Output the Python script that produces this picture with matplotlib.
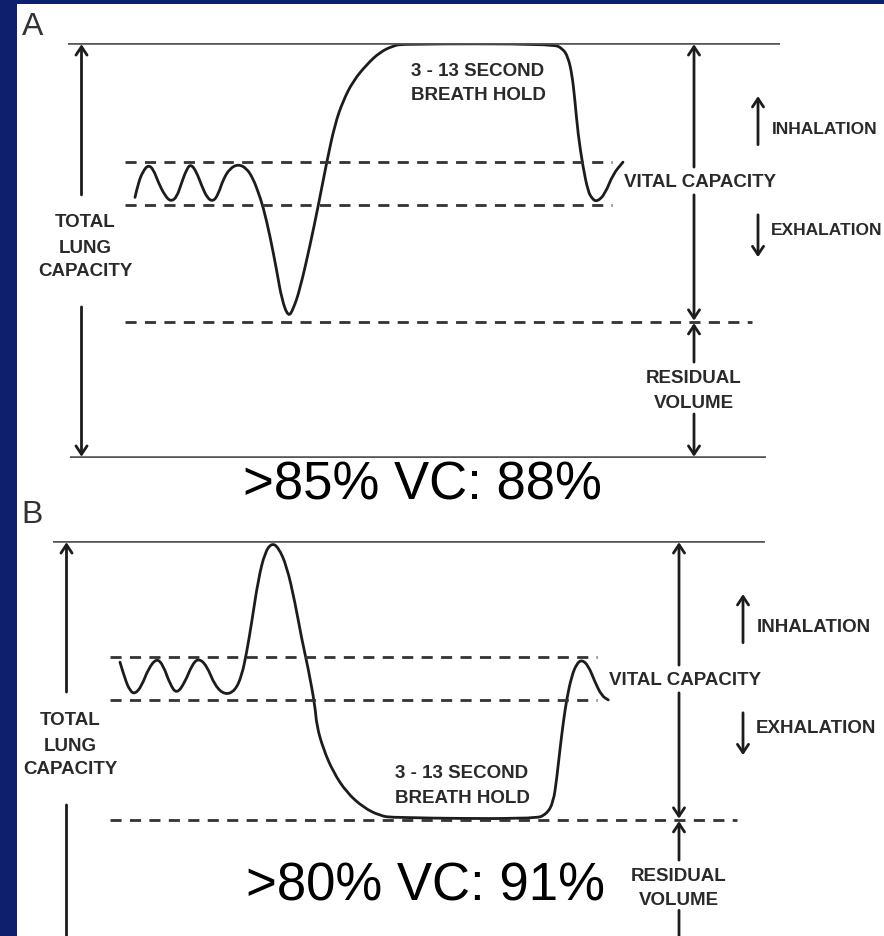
import matplotlib
matplotlib.use("Agg")
import matplotlib.pyplot as plt
from matplotlib.patches import Rectangle, PathPatch
from matplotlib.path import Path

# spirogram traces
# time in arbitrary seconds, volume in % of total lung capacity
a_time = [6.70, 7.03, 7.53, 8.03, 8.53, 9.03, 9.70, 10.27, 10.87, 11.37, 11.87, 12.27,
          12.80, 13.37, 13.93, 14.53, 15.03, 15.53, 16.20, 17.03, 17.87, 18.53, 19.03,
          19.53, 20.2, 20.9, 21.37, 22.03, 22.53, 23.2, 24.2, 25.03, 25.87, 26.7, 27.5,
          28.5, 29.9, 31.2, 32.5, 33.5, 48.5, 49.5, 50.0, 50.4, 50.7, 51.0, 51.5, 52.0,
          52.4, 52.9, 53.7, 54.5, 55.5]
a_vol = [62.8, 66.4, 69.2, 70.6, 69.6, 66.4, 63.2, 61.8, 62.8, 66.4, 69.6, 70.8,
         69.2, 65.6, 62.6, 61.8, 63.6, 67.2, 69.8, 70.8, 69.8, 67.2, 64.0,
         60.4, 53.5, 44.8, 38.3, 33.9, 35.9, 40.7, 51.2, 60.8, 71.3, 80.5, 86.0,
         90.8, 94.9, 97.8, 99.3, 99.8, 99.8, 98.6, 96.6, 92.5, 86.0, 78.1, 70.1, 64.3,
         62.5, 61.7, 63.6, 68.4, 71.3]

b_time = [6.70, 7.20, 7.70, 8.20, 8.87, 9.53, 10.37, 11.03, 11.70, 12.37,
          13.20, 13.87, 14.53, 15.37, 16.20, 17.20, 18.20, 18.87, 19.37, 19.87,
          20.53, 21.20, 21.87, 22.53, 23.37, 24.20, 24.87, 25.53, 26.20, 26.37,
          27.03, 28.03, 29.37, 31.03, 32.70, 34.03, 48.20, 49.37, 50.03, 50.37,
          50.70, 51.03, 51.37, 51.87, 52.37, 52.87, 53.53, 54.20, 54.87, 55.53]
b_vol = [70.8, 66.7, 63.9, 63.1, 65.1, 69.2, 71.8, 70.0, 65.5, 63.1,
         66.0, 70.0, 71.8, 70.0, 65.1, 62.9, 63.9, 67.5, 73.2, 80.4,
         90.8, 97.3, 99.5, 98.5, 94.0, 85.2, 76.4, 69.2, 60.3, 55.5,
         49.9, 44.3, 39.4, 35.8, 33.8, 33.3, 33.0, 34.2, 37.0, 42.7,
         49.9, 56.3, 61.9, 67.5, 70.4, 71.4, 70.0, 66.0, 62.7, 61.7]

# levels: TLC, top of tidal breathing, bottom of tidal breathing, residual volume
a_levels = [100, 71.3, 61.0, 32.8]
b_levels = [100, 72.0, 61.7, 32.8]

a_result = ">85% VC: 88%"
b_result = ">80% VC: 91%"
tlc_label = ["TOTAL", "LUNG", "CAPACITY"]
hold_label = ["3 - 13 SECOND", "BREATH HOLD"]
rv_label = ["RESIDUAL", "VOLUME"]

W, H = 884, 937
navy = "#0d1f6d"
ink = "#1c1c1c"
grey = "#555555"

fig = plt.figure(figsize=(W / 100, H / 100), dpi=100, facecolor=navy)
fig.patches.append(Rectangle((17 / W, 0), 1 - 17 / W, 1 - 5 / H, transform=fig.transFigure,
                             facecolor="white", edgecolor="none", zorder=-10))


def smooth_trace(ax, t, v):
    # quadratic bezier path, the read points act as control points
    pts = list(zip(t, v))
    verts = [pts[0]]
    codes = [Path.MOVETO]
    for i in range(1, len(pts) - 1):
        mid = ((pts[i][0] + pts[i + 1][0]) / 2, (pts[i][1] + pts[i + 1][1]) / 2)
        verts += [pts[i], mid]
        codes += [Path.CURVE3, Path.CURVE3]
    verts.append(pts[-1])
    codes.append(Path.LINETO)
    ax.add_patch(PathPatch(Path(verts, codes), facecolor="none", edgecolor=ink,
                           lw=2.0, joinstyle="round", capstyle="round"))


def arrow(ax, x, y_from, y_to):
    ax.annotate("", xy=(x, y_to), xytext=(x, y_from), annotation_clip=False,
                arrowprops=dict(arrowstyle="->, head_length=0.6, head_width=0.4",
                                lw=2.0, color=ink, shrinkA=0, shrinkB=0))


def small(ax, x, y, s, ha="center", size=13.5):
    ax.text(x, y, s, ha=ha, va="center", fontsize=size, fontweight="bold",
            color="#2a2a2a", family="Liberation Sans")


def panel(left_px, top_px, letter, letter_xy, t, v, levels, bottom_line,
          tlc_y, hold_x, hold_y, rv_y, side_size, result, result_xy):
    ax = fig.add_axes([left_px / W, 1 - (top_px + 415) / H, 712 / W, 415 / H])
    ax.set_xlim(0, 71.2)
    ax.set_ylim(0, 100)
    ax.axis("off")
    tlc, vt_top, vt_bot, rv = levels

    ax.plot([0, 71.2], [tlc, tlc], color=grey, lw=2.6, solid_capstyle="butt")
    if bottom_line:
        ax.plot([0.2, 69.8], [0, 0], color=grey, lw=2.6, solid_capstyle="butt")
    for lvl in (vt_top, vt_bot):
        ax.plot([5.7, 54.4], [lvl, lvl], color="#333333", lw=2.0, dashes=(4, 3))
    ax.plot([5.7, 68.4], [rv, rv], color="#333333", lw=2.0, dashes=(4, 3))

    smooth_trace(ax, t, v)

    # total lung capacity arrow
    arrow(ax, 1.35, tlc_y[0] + 6.5, tlc - 0.3)
    arrow(ax, 1.35, tlc_y[2] - 8.7, 0.3)
    for s, y in zip(tlc_label, tlc_y):
        small(ax, 1.7, y, s)

    # vital capacity arrow
    arrow(ax, 62.6, 70.1, tlc - 0.3)
    arrow(ax, 62.6, 63.4, rv + 0.3)
    small(ax, 55.6, 66.7, "VITAL CAPACITY", ha="left")

    # residual volume arrow
    arrow(ax, 62.6, rv_y[0] + 3.8, rv - 0.3)
    arrow(ax, 62.6, rv_y[1] - 2.7, 0.3)
    for s, y in zip(rv_label, rv_y):
        small(ax, 62.6, y, s)

    # inhalation / exhalation
    arrow(ax, 69.0, 75.5, 87.2)
    arrow(ax, 69.0, 58.6, 48.4)
    small(ax, 70.4, 79.4, "INHALATION", ha="left", size=side_size)
    small(ax, 70.3, 55.0, "EXHALATION", ha="left", size=side_size)

    for s, y in zip(hold_label, hold_y):
        small(ax, hold_x, y, s)

    ax.text(letter_xy[0], letter_xy[1], letter, ha="center", va="center", fontsize=23,
            color="#333333", family="Liberation Sans")
    ax.text(result_xy[0], result_xy[1], result, ha="center", va="center",
            fontsize=38, color="black", family="Liberation Sans")
    return ax


panel(68, 44, "A", (-3.5, 104.2), a_time, a_vol, a_levels, True,
      [56.9, 50.8, 45.1], 41.0, [93.3, 87.5], [19.3, 13.3], 12.5, a_result, (35.4, -6.3))
panel(53, 542, "B", (-2.1, 106.5), b_time, b_vol, b_levels, False,
      [57.1, 50.8, 45.1], 40.9, [44.3, 38.3], [19.3, 13.7], 13.5, b_result, (37.2, 17.1))

fig.savefig("out.png", dpi=100, facecolor=navy)
